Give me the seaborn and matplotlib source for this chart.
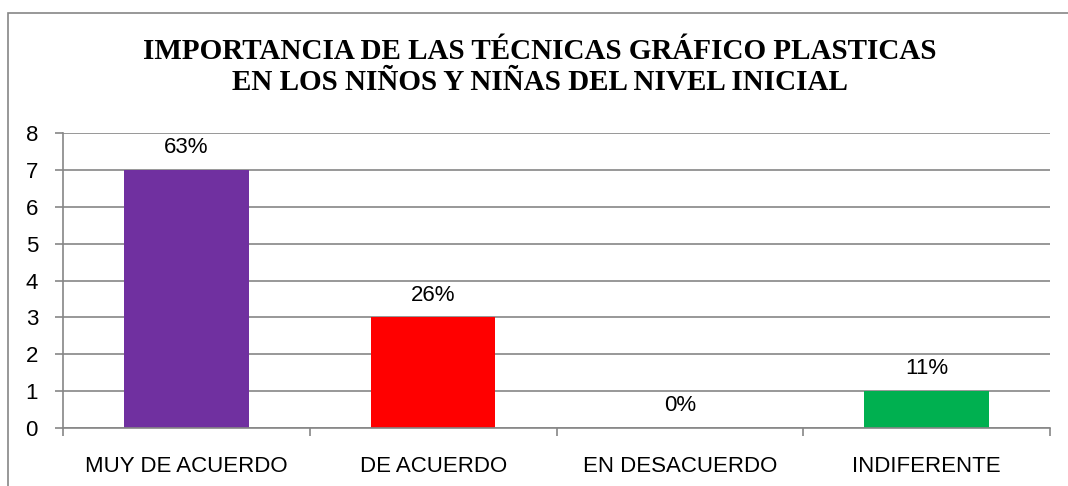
import matplotlib
matplotlib.use("Agg")
import matplotlib.pyplot as plt
import seaborn as sns
import pandas as pd
from matplotlib.patches import Rectangle

categories = ["MUY DE ACUERDO", "DE ACUERDO", "EN DESACUERDO", "INDIFERENTE"]
values = [7, 3, 0, 1]
pct_labels = ["63%", "26%", "0%", "11%"]
colors = ["#7030A0", "#FF0000", "#4F81BD", "#00B050"]
title = "IMPORTANCIA DE LAS TÉCNICAS GRÁFICO PLASTICAS\nEN LOS NIÑOS Y NIÑAS DEL NIVEL INICIAL"

sns.set_theme(style="white")
plt.rcParams['font.family'] = ['Liberation Sans', 'DejaVu Sans']
plt.rcParams['text.color'] = 'black'

df = pd.DataFrame({"cat": categories, "val": values})

fig = plt.figure(figsize=(10.68, 4.86), dpi=100)
ax = fig.add_axes([63/1068, 1-428/486, (1050-63)/1068, (428-133)/486])

sns.barplot(data=df, x="cat", y="val", hue="cat", palette=colors, legend=False,
            width=0.505, ax=ax, saturation=1, linewidth=0)

ax.set_ylim(0, 8)
ax.set_xlim(-0.5, 3.5)
ax.set_yticks(range(0, 9))
ax.yaxis.grid(True, color="#868686", linewidth=1.2)
ax.set_axisbelow(True)
for s in ["top", "right"]:
    ax.spines[s].set_visible(False)
for s in ["left", "bottom"]:
    ax.spines[s].set_color("#868686")
    ax.spines[s].set_linewidth(1.2)
ax.set_xlabel("")
ax.set_ylabel("")
ax.set_xticks([-0.5, 0.5, 1.5, 2.5, 3.5], minor=True)
ax.tick_params(axis="x", which="major", length=0, pad=20, labelsize=16)
ax.tick_params(axis="x", which="minor", length=6, color="#868686", width=1.2, direction="out", bottom=True)
ax.tick_params(axis="y", length=6, color="#868686", width=1.2, direction="out", left=True, labelsize=16, pad=12)
for lab in ax.get_xticklabels() + ax.get_yticklabels():
    lab.set_color("black")

for i, (v, t) in enumerate(zip(values, pct_labels)):
    ax.annotate(t, (i, v), xytext=(0, 8.5), textcoords="offset points",
                ha="center", va="bottom", fontsize=16, color="black")

fig.text(540/1068, 1-67/486, title, ha="center", va="center", fontsize=21,
         fontweight="bold", family=["Liberation Serif", "DejaVu Serif"], linespacing=1.18,
         color="black")

fig.patches.append(Rectangle((8/1068, -0.1), 1.2, 1-13/486+0.1, transform=fig.transFigure,
                             fill=False, edgecolor="#868686", linewidth=1.2))

fig.savefig("out.png", dpi=100)
